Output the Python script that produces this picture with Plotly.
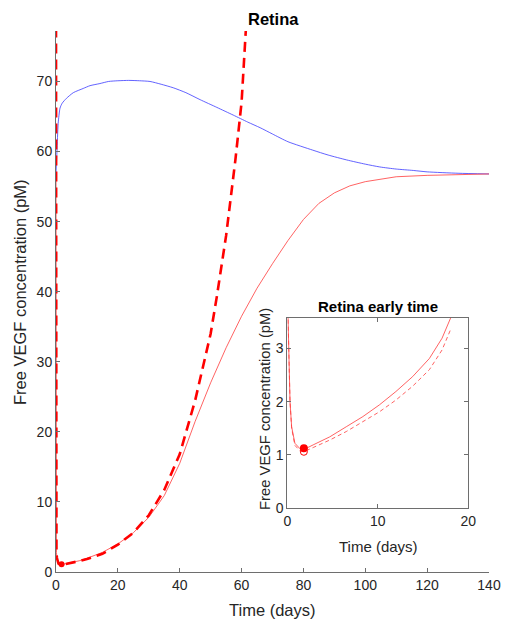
import plotly.graph_objects as go

# ---- main panel data (time in days, free VEGF in pM) ----
t_blue = [0, 0.3, 0.7, 1.3, 2, 3.4, 5.6, 8.8, 11, 14.2, 17, 20, 23.5, 27, 30.4, 34, 37.9, 42, 46.6,
          52, 57.3, 62, 66, 70, 75, 83, 88, 94, 100, 104.7, 110, 115.5, 120, 130, 140]
v_blue = [57, 60, 64, 66.2, 66.9, 67.6, 68.4, 69.0, 69.4, 69.7, 70.0, 70.1, 70.15, 70.1, 70.0, 69.6,
          69.1, 68.4, 67.4, 66.3, 65.2, 64.2, 63.4, 62.5, 61.4, 60.2, 59.5, 58.8, 58.2, 57.8, 57.5,
          57.3, 57.1, 56.9, 56.8]

t_red = [0, 0.05, 0.15, 0.3, 0.5, 0.8, 1.2, 1.9, 3, 5, 7.5, 10, 15, 20, 25, 30, 35, 40, 45, 50, 55,
         60, 65, 70, 75, 80, 85, 90, 95, 100, 105, 110, 120, 130, 140]
v_red = [56.8, 4.0, 2.8, 2.0, 1.55, 1.25, 1.14, 1.1, 1.18, 1.32, 1.6, 1.95, 2.8, 4.0, 5.6, 7.8, 10.9,
         15.5, 21.5, 27, 32, 36.5, 40.5, 44, 47.3, 50.3, 52.6, 54.1, 55.1, 55.7, 56.1, 56.4, 56.6,
         56.75, 56.8]

t_dash = [0, 0.05, 0.15, 0.3, 0.5, 0.8, 1.2, 1.9, 3, 5, 7.5, 10, 15, 20, 25, 30, 35, 40, 45, 50, 52,
          55, 58, 60, 62]
v_dash = [80, 4.0, 2.8, 2.0, 1.5, 1.2, 1.1, 1.06, 1.14, 1.3, 1.55, 1.85, 2.6, 3.9, 5.6, 8.1, 11.7,
          16.8, 24.5, 34, 39.3, 48, 58.8, 67, 82]

t_min = [1.8]
v_min = [1.1]

# ---- inset (early time) data ----
ti_solid = [0.05, 0.15, 0.3, 0.48, 0.84, 1.39, 1.8, 2.86, 4.69, 6.52, 8.35, 10.18, 12.0, 13.85,
            15.7, 17.1, 18.06, 18.5]
vi_solid = [3.8, 2.8, 2.0, 1.53, 1.22, 1.12, 1.1, 1.19, 1.34, 1.53, 1.72, 1.94, 2.19, 2.47, 2.81,
            3.19, 3.575, 3.7]
ti_dash = [0.05, 0.15, 0.3, 0.48, 0.84, 1.39, 1.8, 2.86, 4.69, 6.52, 8.35, 10.18, 12.0, 13.85,
           15.7, 17.1, 18.06]
vi_dash = [3.8, 2.8, 2.0, 1.5, 1.18, 1.08, 1.06, 1.14, 1.28, 1.44, 1.62, 1.81, 2.03, 2.29, 2.6,
           2.97, 3.36]
ti_min_filled = [1.83]
vi_min_filled = [1.125]
ti_min_open = [1.83]
vi_min_open = [1.06]

x_ticks = [0, 20, 40, 60, 80, 100, 120, 140]
y_ticks = [0, 10, 20, 30, 40, 50, 60, 70]
xi_ticks = [0, 10, 20]
yi_ticks = [0, 1, 2, 3]

FONT = "Liberation Sans, Arial, sans-serif"
TXT = "#262626"
AX = "#6e6e6e"
THIN_RED = "#ff3b3b"
THIN_BLUE = "#3b3bff"

fig = go.Figure()
fig.add_trace(go.Scatter(x=t_blue, y=v_blue, mode="lines",
                         line=dict(color=THIN_BLUE, width=0.8, shape="spline", smoothing=0.6),
                         xaxis="x", yaxis="y", showlegend=False))
fig.add_trace(go.Scatter(x=t_red, y=v_red, mode="lines", line=dict(color=THIN_RED, width=0.8),
                         xaxis="x", yaxis="y", showlegend=False))
fig.add_trace(go.Scatter(x=t_dash, y=v_dash, mode="lines",
                         line=dict(color="#ff0000", width=2.6, dash="10px,6px"),
                         xaxis="x", yaxis="y", showlegend=False))
fig.add_trace(go.Scatter(x=t_min, y=v_min, mode="markers",
                         marker=dict(color="#ff0000", size=6), xaxis="x", yaxis="y", showlegend=False))

fig.add_trace(go.Scatter(x=ti_solid, y=vi_solid, mode="lines", line=dict(color=THIN_RED, width=0.8),
                         xaxis="x2", yaxis="y2", showlegend=False))
fig.add_trace(go.Scatter(x=ti_dash, y=vi_dash, mode="lines",
                         line=dict(color=THIN_RED, width=0.8, dash="4px,3px"),
                         xaxis="x2", yaxis="y2", showlegend=False))
fig.add_trace(go.Scatter(x=ti_min_open, y=vi_min_open, mode="markers",
                         marker=dict(color="rgba(0,0,0,0)", size=7, line=dict(color="#ff0000", width=1)),
                         xaxis="x2", yaxis="y2", showlegend=False))
fig.add_trace(go.Scatter(x=ti_min_filled, y=vi_min_filled, mode="markers",
                         marker=dict(color="#ff0000", size=8), xaxis="x2", yaxis="y2", showlegend=False))

axis_common = dict(showgrid=False, zeroline=False, showline=True, linecolor=AX, linewidth=1,
                   ticks="inside", ticklen=4, tickcolor=AX, tickwidth=1, automargin=False,
                   tickfont=dict(family=FONT, size=14, color=TXT))

# plot-area geometry in page pixels
L, T, W, H = 56.0, 31.0, 433.0, 541.0
FIG_W, FIG_H = 506, 621


def px(xp):
    return (xp - L) / W


def py(yp):
    return (T + H - yp) / H


fig.update_layout(
    width=FIG_W, height=FIG_H,
    paper_bgcolor="white", plot_bgcolor="white",
    margin=dict(l=L, r=FIG_W - L - W, t=T, b=FIG_H - T - H, pad=0),
    xaxis=dict(**axis_common, range=[0, 140], tickvals=x_ticks, domain=[0, 1], anchor="y"),
    yaxis=dict(**axis_common, range=[0, 77.2], tickvals=y_ticks, domain=[0, 1], anchor="x"),
    xaxis2=dict(**axis_common, range=[0, 20], tickvals=xi_ticks, domain=[px(287.3), px(468.3)],
                anchor="y2", mirror="ticks"),
    yaxis2=dict(**axis_common, range=[0, 3.575], tickvals=yi_ticks, domain=[py(508.3), py(317.7)],
                anchor="x2", mirror="ticks"),
)

ann = [
    ("<b>Retina</b>", 273, 19, 16.5, "black", 0),
    ("<b>Retina early time</b>", 377.5, 306.5, 15, "black", 0),
    ("Time (days)", 272, 610, 16.5, TXT, 0),
    ("Free VEGF concentration (pM)", 20, 292, 16.5, TXT, -90),
    ("Time (days)", 378, 546, 15, TXT, 0),
    ("Free VEGF concentration (pM)", 265, 409, 14.8, TXT, -90),
]
for text, xp, yp, size, color, ang in ann:
    fig.add_annotation(text=text, x=px(xp), y=py(yp), xref="paper", yref="paper", showarrow=False,
                       xanchor="center", yanchor="middle", textangle=ang,
                       font=dict(family=FONT, size=size, color=color))

# remove the default 8px page margin so the figure sits at the page origin; hide the mode bar
fig.write_html("out.html", config={"displayModeBar": False},
               post_script="document.body.style.margin='0px';")
